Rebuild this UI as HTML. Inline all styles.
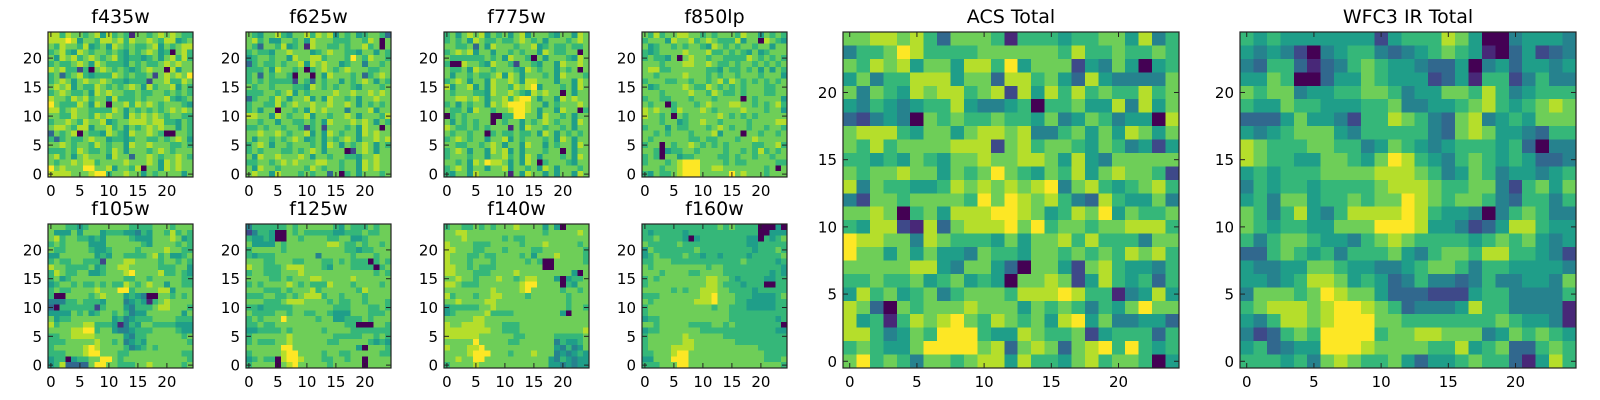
<!DOCTYPE html>
<html><head><meta charset="utf-8"><style>
html,body{margin:0;padding:0;background:#fff;}
svg{display:block;font-family:"DejaVu Sans","Liberation Sans",sans-serif;}
</style></head><body>
<svg id="fig" width="1600" height="400" viewBox="0 0 1600 400" xmlns="http://www.w3.org/2000/svg"></svg>
<script>
const titles = ["f435w","f625w","f775w","f850lp","f105w","f125w","f140w","f160w","ACS Total","WFC3 IR Total"];
const tickValues = [0,5,10,15,20];
const tickLabels = ["0","5","10","15","20"];
const f435w = ["8868776785867617767878766","8889857768878687787688567","7687768567587676678576788","6786587677676576787560786","7587867876786566567578686","6766787587666576766787877","8786626078767656787708577","6736786566687676672787879","6787578778766566627786687","7878576687676787586778576","6787667587877667667767676","8776878677586667677786567","9766687587077868787677765","8867877666687576767678787","7766877687877587878767766","6778768778567788878866576","7887688577867576787877576","3767807665876587787600776","6367667877566567766767875","7787677687677587787776676","6667687667687577767876777","7867578777587737787677876","7677878867777877787587877","9787779977857768077587877","8888777899677877576777757"];
const f625w = ["7657786577868785767567763","7867557767587776667768707","7637768567187766767786707","6766577877756787766577576","5677677587788677769768776","3676676778587877567747767","6667587767067876787776677","6737677607707587776736787","6767666627637677576787576","7677677766587676776577767","6667767857677778778778787","3677687577857587767577877","6776686787787787787576767","6757707767587877747778577","8877587677857767787577768","7767757766767587778787576","6676776776267277767587707","7787787677857587677587877","7577676787567576787577878","6787577677767587576787576","6767776676787577702787577","7587787778757767766577877","6677678787778877677587877","7587767777687677677587877","7877587776767737067577767"];
const f775w = ["6757878576757857776577587","6767587667667876757776787","7766737587776778567667667","6787857757767677587667707","7666666767587760757776587","6008776587762776577587787","7667587767776587677576707","7577676678587577767587776","6787577587787588777577587","8577857587768789577767587","7677766587787658787707577","7788787577868997577587877","6757677587899987757677787","7667587767789987577587706","0676777700669977587767577","7576767707677576787677587","8766767677717587767767577","7677677067667667587576767","6787677577857677767587577","7766776787577587757677587","6787577587857577767707577","6777677577867587577767587","7767587988757587067776577","6787577577857767587577767","6577587777717587757577587"];
const f850lp = ["7686778877676777687757676","6777587786787666857708765","7567767677658767677677577","6567777877786676765756777","6766570787767766668767676","7776777887787667677676767","7886677777766576676757576","7767777877767677677767775","6777667767767868767676767","7567777876687676767776677","7776777787768766767776677","6776677767776777707677775","7677067776787778877676786","8787768777876777787776775","8776707677777876767677777","7776775677877677776777788","6777576677767876776776776","7767677767778577707767767","7677777766766777677877777","6770767787676767777667786","7760566776777767767686767","6760775667777667677677677","6777678999777767667777766","7776778999778877777776707","6576678999777779787776777"];
const f105w = ["7776656777777766667776777","7555757775666554657768676","7867766565777765557778756","6767777555777777657777676","7667777655677776777787766","5577777756577666678675567","6766776662777887777677676","8776666756778877777666775","6876677556777897777866765","6756777777777667767777766","5677676676766876787757766","6766777787779967777885777","6007777678777565400776767","4446676665777456516787777","3066666626777546667887776","5555767567767645577777757","7566777777756456667777666","8677778866651465776666555","7777889967754456667777655","6677888877777546677777767","6667777787767456577777776","6777778987777645676777777","6667778997776677777777766","5660566779976777777777776","5683333799776667787777767"];
const f125w = ["4666666767777776576667677","2466500767666665566676677","6556500776777766775567777","7555576777777788766767767","6777776777777777766566777","6566677777774777776777677","7776677766777667676660676","8776667888777657776666067","6776667778777777777777676","7777667677788777778777777","6767777876766687776777767","7776667677786777777687777","6667766767888677677767777","7776667888777767667767776","6656666677777776667776676","7666677677667765557776667","6767779777776775566676777","6676677777777777766000776","5566667677777677776666666","6777777877777776666677676","6766677877777766777776565","7777779977777777777507776","6777778997777677667777766","5676608998777667767707777","6777707897777767777707777"];
const f140w = ["6776676767778777757507777","7788777777777777767777787","7778777777676677777777777","8777766677777677787777767","8877766777677776677777776","8777667667777675777877776","8777677767777767600777776","8877676667777777700777777","8877766677778777777777507","7787767778776788777505667","8876667777777899777706577","7777777787777897777767767","8677767788777767777776777","7787777887777777777776777","5666667787777777777776776","5677777866667777777750777","7777788777777777777777777","8778888777666777777777777","8888888877666777777777778","8888887777776677777666667","7777797777766777777465567","8777889777777777777546457","7777899977767778777454565","7787799777777777775465455","6777787777777777775545455"];
const f160w = ["6666666666666767666600050","6566666566666666666600555","6676666505666666665506567","7666667666666666665566666","5766666667666666666566676","5676666766566566665666667","6677766666666666676666656","7677777777767766666666665","7776777766777766666666565","6767777777788776566665566","6777777777788766656660066","7777767677888776666566666","6667777777889777666555567","7677777778889777665555566","6777777777776776665555566","6777777777777776666666666","5667777777777776666666656","7767777766667767666666660","5667777777666666666666655","6777777877777766666666666","6777777887777777666666666","6777788887777777777766666","6677789977777777777776666","5577799977777777777776667","6667779977777777777777776"];
const acsTotal = ["7788786377761666566775846","4667986666777777686676676","7687857758869577725475056","5746688857738867538544447","7476587886782858686766867","5465456685445606675584857","3245407676676657457645508","7888657757887844675758757","7686777788827867765764525","6656576577877887585477777","7677877576797657685787762","8476655687878789478656786","4277677776979878643865574","7787067588899875687957667","6588218378889796776778886","9887748766657577868666477","9775757554766577676768786","7777788547753077527865546","6676675675650778725865636","5867567467776888986614585","8730767778777576764657977","8561687897687675895744553","8864576999655876672566636","6765579999783787378969656","7967647767885866578677605"];
const wfc3Total = ["6565555555256668750045554","5454204566434567651035234","4366313467655433504535545","5576003557655523516624644","7677455667764557768645666","6557665556674455678656787","3335755426687643784565777","5456777546666643787554366","8766677664576545666563044","8766557765798654676565334","5656667777888764576455456","4656656666788876677426757","5647756676779876776436646","7646854688889865540467644","7656655777999855423588655","6467765546787666656767545","3367656466675467768866542","5445577655445677646655554","5545688756534644346445547","4777679877533322256644446","6788878998763444586644441","5468878999776666666765541","4236769999677887774576765","5634559998777766856733676","6665647876675355676631586"];
const grids = [f435w,f625w,f775w,f850lp,f105w,f125w,f140w,f160w,acsTotal,wfc3Total];

const NS = "http://www.w3.org/2000/svg";
const svg = document.getElementById('fig');
const viridis = ["#440154","#482878","#3e4989","#31688e","#26828e","#1f9e89","#35b779","#6ece58","#b5de2b","#fde725"];
function colorFor(v){ return viridis[Math.max(0,Math.min(9,Math.round(v)))]; }
function mk(tag, attrs){ const e=document.createElementNS(NS,tag); for(const k in attrs) e.setAttribute(k,attrs[k]); return e; }

const layout = [];
for(let i=0;i<4;i++) layout.push({x:48+198*i,y:32,w:145,h:145});
for(let i=0;i<4;i++) layout.push({x:48+198*i,y:224,w:145,h:144});
layout.push({x:843,y:32,w:336,h:336});
layout.push({x:1240,y:32,w:336,h:336});

grids.forEach((grid, p) => {
  const L = layout[p];
  const n = grid.length;
  const xs = v => L.x + (v + 0.5) / n * L.w;
  const ys = v => L.y + L.h - (v + 0.5) / n * L.h;
  const g = mk('g',{});
  
  
  svg.appendChild(g);
  const hm = mk('g',{'shape-rendering':'crispEdges'});
  
  
  g.appendChild(hm);
  for(let r=0;r<n;r++){
    const yv = n-1-r;
    const row = grid[r];
    for(let c=0;c<row.length;c++){
      const x0 = xs(c-0.5), x1 = xs(c+0.5), y0 = ys(yv+0.5), y1 = ys(yv-0.5);
      const rect = mk('rect',{x:x0.toFixed(2),y:y0.toFixed(2),width:(x1-x0+0.4).toFixed(2),height:(y1-y0+0.4).toFixed(2),fill:colorFor(+row[c])});
      
      
      hm.appendChild(rect);
    }
  }
  const frame = mk('rect',{x:L.x,y:L.y,width:L.w,height:L.h,fill:'none',stroke:'#222','stroke-width':1.2});
  
  
  g.appendChild(frame);
  tickValues.forEach((t, k) => {
    const tx = xs(t), ty = ys(t);
    [[tx,L.y+L.h,tx,L.y+L.h-5],[tx,L.y,tx,L.y+5],[L.x,ty,L.x+5,ty],[L.x+L.w,ty,L.x+L.w-5,ty]].forEach(s=>{
      const ln = mk('line',{x1:s[0],y1:s[1],x2:s[2],y2:s[3],stroke:'#222','stroke-width':1});
      
      
      g.appendChild(ln);
    });
    const xl = mk('text',{x:tx,y:L.y+L.h+19,'font-size':15,'text-anchor':'middle',fill:'#000'});
    xl.textContent = tickLabels[k];
    
    
    g.appendChild(xl);
    const yl = mk('text',{x:L.x-6,y:ty+5.5,'font-size':15,'text-anchor':'end',fill:'#000'});
    yl.textContent = tickLabels[k];
    
    
    g.appendChild(yl);
  });
  const tt = mk('text',{x:L.x+L.w/2,y:L.y-9,'font-size':19,'text-anchor':'middle',fill:'#000'});
  tt.textContent = titles[p];
  
  
  g.appendChild(tt);
});
</script>
</body></html>
